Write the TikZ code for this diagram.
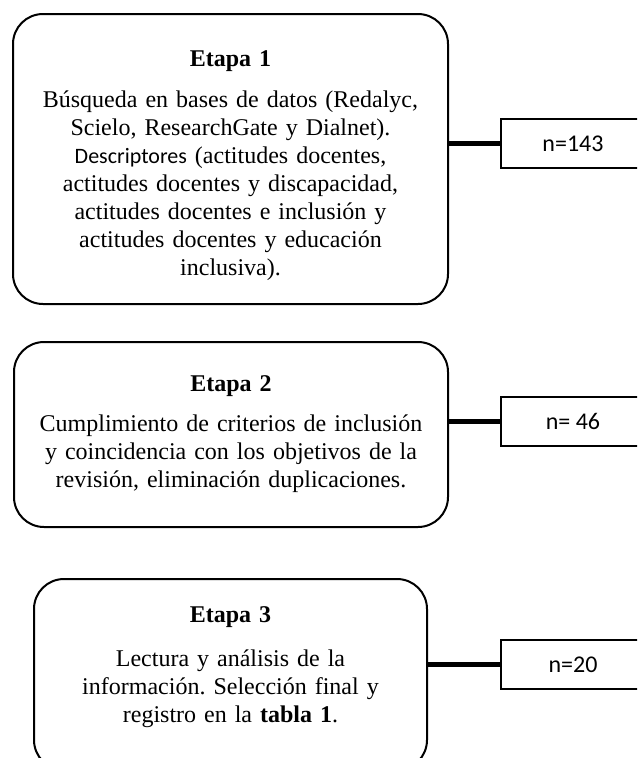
\documentclass[tikz,border=0pt]{standalone}
\usepackage{fontspec}
\setmainfont{Liberation Serif}
\newfontfamily\calibri{Carlito}
\frenchspacing
\begin{document}
\begin{tikzpicture}[x=0.75pt,y=-0.75pt,
  etapa/.style={draw,line width=1.5pt,rounded corners=22.5pt,align=center,font=\fontsize{18}{21}\selectfont},
  nbox/.style={draw,line width=1.5pt,minimum width=108pt,minimum height=36.75pt,font=\calibri\fontsize{18}{21}\selectfont},
  enlace/.style={line width=3.75pt}]
\useasboundingbox (0,0) rectangle (637,758);
\clip (0,0) rectangle (637,758);
\node[etapa,minimum width=326.25pt,minimum height=217.5pt,text width=300pt] (etapa1) at (230.5,159)
  {\rule{0pt}{22pt}\textbf{Etapa 1}\\[10pt]Búsqueda en bases de datos (Redalyc,\\Scielo, ResearchGate y Dialnet).\\{\calibri\fontsize{16.5}{21}\selectfont Descriptores} (actitudes docentes,\\actitudes docentes y discapacidad,\\actitudes docentes e inclusión y\\actitudes docentes y educación\\inclusiva).};
\node[etapa,minimum width=325.5pt,minimum height=138.75pt,text width=300pt] (etapa2) at (231,434.5)
  {\textbf{Etapa 2}\\[9pt]Cumplimiento de criterios de inclusión\\y coincidencia con los objetivos de la\\revisión, eliminación duplicaciones.};
\node[etapa,minimum width=294.75pt,minimum height=143.25pt,text width=270pt] (etapa3) at (230.5,674.5)
  {\textbf{Etapa 3}\\[12pt]Lectura y análisis de la\\información. Selección final y\\registro en la \textbf{tabla 1}.\vspace{11.5pt}};
% resultados
\node[nbox] (n1) at (573,143.5) {n=143};
\node[nbox] (n2) at (573,421) {n= 46};
\node[nbox] (n3) at (573,664.5) {n=20};
\draw[enlace] (etapa1.east |- n1.west)--(n1.west);
\draw[enlace] (etapa2.east |- n2.west)--(n2.west);
\draw[enlace] (etapa3.east |- n3.west)--(n3.west);
\end{tikzpicture}
\end{document}
